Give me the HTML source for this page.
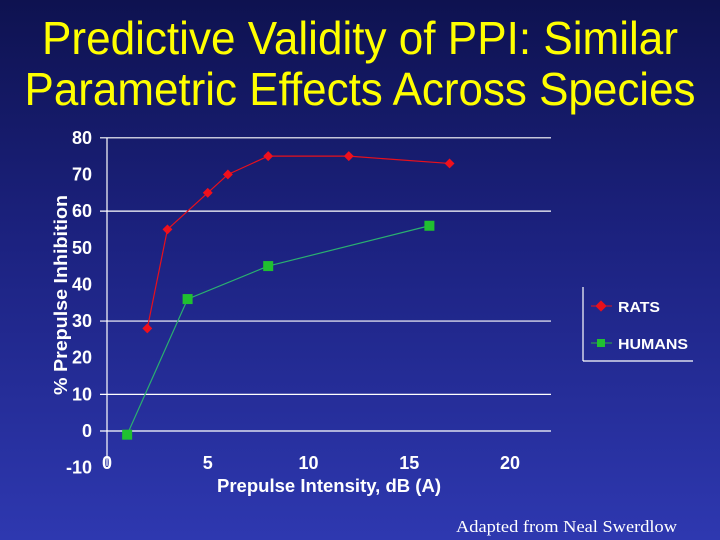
<!DOCTYPE html>
<html><head><meta charset="utf-8"><style>
html,body{margin:0;padding:0;}
body{width:720px;height:540px;overflow:hidden;background:linear-gradient(#0e1250 0%,#1c2280 45%,#2e38b0 100%);}
svg{display:block;font-family:"Liberation Sans",Arial,sans-serif;}
</style></head><body>
<svg id="chart" width="720" height="540">
<text x="360" y="54" text-anchor="middle" font-size="46" fill="#ffff00" textLength="636" lengthAdjust="spacingAndGlyphs">Predictive Validity of PPI: Similar</text>
<text x="360" y="105" text-anchor="middle" font-size="46" fill="#ffff00" textLength="671" lengthAdjust="spacingAndGlyphs">Parametric Effects Across Species</text>
<g id="grid"></g>
<g id="axes"></g>
<g id="series"></g>
<text transform="translate(67,295) rotate(-90)" text-anchor="middle" font-size="18" font-weight="bold" fill="#fff" textLength="200" lengthAdjust="spacingAndGlyphs">% Prepulse Inhibition</text>
<text x="329" y="492" text-anchor="middle" font-size="18" font-weight="bold" fill="#fff" textLength="224" lengthAdjust="spacingAndGlyphs">Prepulse Intensity, dB (A)</text>
<g>
<line x1="583" y1="287" x2="583" y2="361" stroke="#fff" stroke-width="1.2"/>
<line x1="583" y1="361" x2="693" y2="361" stroke="#fff" stroke-width="1.2"/>
<g>
<line x1="591" y1="306" x2="612" y2="306" stroke="#e8101c" stroke-width="1"/>
<rect x="597" y="302" width="8" height="8" fill="#e8101c" transform="rotate(45 601 306)"/>
<text x="618" y="312" font-size="15" font-weight="bold" fill="#fff" textLength="42" lengthAdjust="spacingAndGlyphs">RATS</text></g>
<g>
<line x1="591" y1="343" x2="612" y2="343" stroke="#2ab040" stroke-width="1"/>
<rect x="597" y="339" width="8" height="8" fill="#20c030"/>
<text x="618" y="349" font-size="15" font-weight="bold" fill="#fff" textLength="70" lengthAdjust="spacingAndGlyphs">HUMANS</text></g>
</g>
<text x="456" y="532" font-size="17" fill="#fff" font-family="Liberation Serif,serif" textLength="221" lengthAdjust="spacingAndGlyphs">Adapted from  Neal Swerdlow</text>
</svg>
<script>
const ratsX=[2,3,5,6,8,12,17];
const ratsY=[28,55,65,70,75,75,73];
const humansX=[1,4,8,16];
const humansY=[-1,36,45,56];
const yTicks=[80,70,60,50,40,30,20,10,0,-10];
const gridVals=[80,60,30,10,0];
const xTicks=[0,5,10,15,20];
const NS="http://www.w3.org/2000/svg";
function sx(v){return 107+v*20.15;}
function sy(v){return 431-v*3.665;}
function mk(tag,attrs,parent){const e=document.createElementNS(NS,tag);for(const k in attrs)e.setAttribute(k,attrs[k]);parent.appendChild(e);return e;}
const grid=document.getElementById('grid'),axes=document.getElementById('axes'),ser=document.getElementById('series');
gridVals.forEach(v=>{const l=mk('line',{x1:100,x2:551,y1:sy(v),y2:sy(v),stroke:'#fff','stroke-width':1.2},grid);

});
const ax=mk('line',{x1:107,x2:107,y1:sy(80),y2:sy(-9.5),stroke:'#fff','stroke-width':1.2},axes);


yTicks.forEach(v=>{const t=mk('text',{x:92,y:sy(v)+6,'text-anchor':'end','font-size':18,'font-weight':'bold',fill:'#fff'},axes);t.textContent=v;

});
xTicks.forEach(v=>{const t=mk('text',{x:sx(v),y:469,'text-anchor':'middle','font-size':18,'font-weight':'bold',fill:'#fff'},axes);t.textContent=v;

});
function draw(xs,ys,color,lineColor,shape,name){
 const pts=xs.map((x,i)=>sx(x)+','+sy(ys[i])).join(' ');
 const pl=mk('polyline',{points:pts,fill:'none',stroke:lineColor,'stroke-width':1.2},ser);
 
 
 xs.forEach((x,i)=>{const cx=sx(x),cy=sy(ys[i]);let m;
  if(shape==='diamond')m=mk('rect',{x:cx-3.5,y:cy-3.5,width:7,height:7,fill:color,transform:`rotate(45 ${cx} ${cy})`},ser);
  else m=mk('rect',{x:cx-5,y:cy-5,width:10,height:10,fill:color},ser);
  
  });
}
draw(ratsX,ratsY,'#f0101c','#e8101c','diamond','rats');
draw(humansX,humansY,'#20c030','#2ab070','square','humans');
</script>
</body></html>
